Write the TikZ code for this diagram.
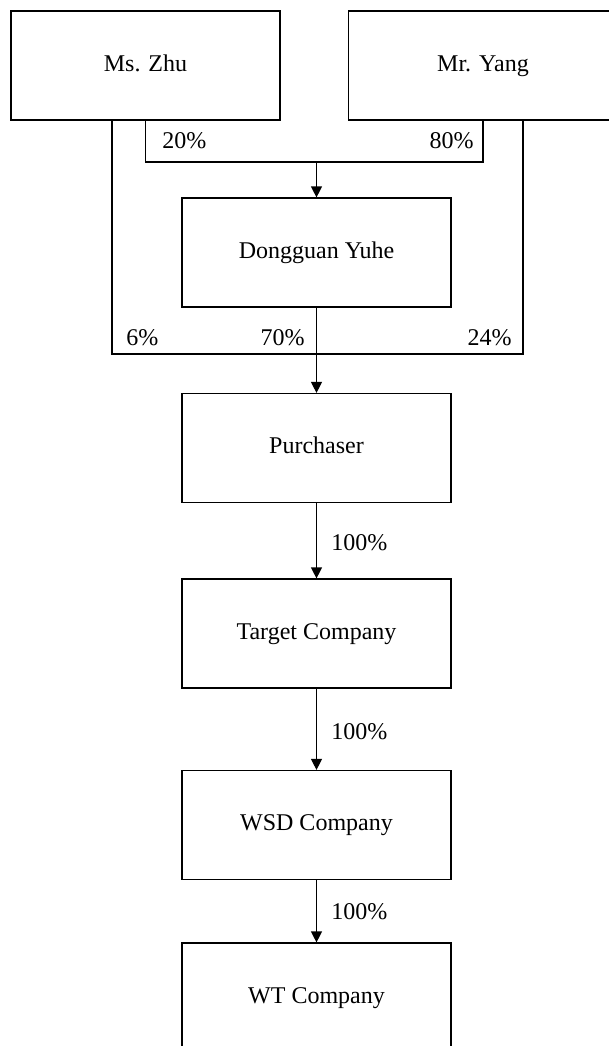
\documentclass[tikz,border=0pt]{standalone}
\usepackage{fontspec}
\setmainfont{Liberation Serif}
\usetikzlibrary{arrows.meta, positioning}
\tikzset{
    entity/.style={
        rectangle,
        draw=black,
        line width=0.6pt,
        minimum width=134.5pt,
        minimum height=54.5pt,
        inner sep=0pt,
        text height=1.6ex,
        text depth=0.4ex,
        font=\fontsize{12}{14}\selectfont
    },
    share/.style={
        inner sep=0pt,
        font=\fontsize{12}{14}\selectfont
    },
    tie/.style={line width=0.6pt},
    owns/.style={-{Triangle[length=5.5pt, width=5.5pt]}, line width=0.6pt}
}

\begin{document}
\begin{tikzpicture}[x=0.5pt, y=-0.5pt]

    \clip (0,0) rectangle (609,1046);

    \node[entity] (zhu) at (145.5,65.5) {Ms. Zhu};
    \node[entity] (yang) at (483,65.5) {Mr. Yang};
    \node[entity] (yuhe) at (316.5,252.5) {Dongguan Yuhe};
    \node[entity] (purchaser) at (316.5,448) {Purchaser};
    \node[entity] (target) at (316.5,633.5) {Target Company};
    \node[entity] (wsd) at (316.5,825) {WSD Company};
    \node[entity] (wt) at (316.5,997.5) {WT Company};

    % joins of the two shareholders
    \coordinate (jointop) at (316.5,162);
    \coordinate (joinbot) at (316.5,354);
    \coordinate (zhuleg) at (112,0);
    \coordinate (yangleg) at (523,0);

    \draw[tie] (zhu.south) |- (jointop) -| (yang.south);
    \draw[owns] (jointop) -- (yuhe.north);

    \draw[tie] (zhuleg |- zhu.south) |- (joinbot) -| (yangleg |- yang.south);
    \draw[owns] (yuhe.south) -- (purchaser.north);

    \draw[owns] (purchaser.south) -- (target.north);
    \draw[owns] (target.south) -- (wsd.north);
    \draw[owns] (wsd.south) -- (wt.north);

    \node[share, anchor=west] (zhupct) at (162,141) {20\%};
    \node[share, anchor=east] (yangpct) at (474,141) {80\%};
    \node[share, anchor=west] (zhuown) at (126,338) {6\%};
    \node[share, anchor=east] (yuheown) at (305,338) {70\%};
    \node[share, anchor=east] (yangown) at (512,338) {24\%};
    \node[share, anchor=west] (targetpct) at (331,543) {100\%};
    \node[share, anchor=west] (wsdpct) at (331,732) {100\%};
    \node[share, anchor=west] (wtpct) at (331,912) {100\%};

\end{tikzpicture}
\end{document}
